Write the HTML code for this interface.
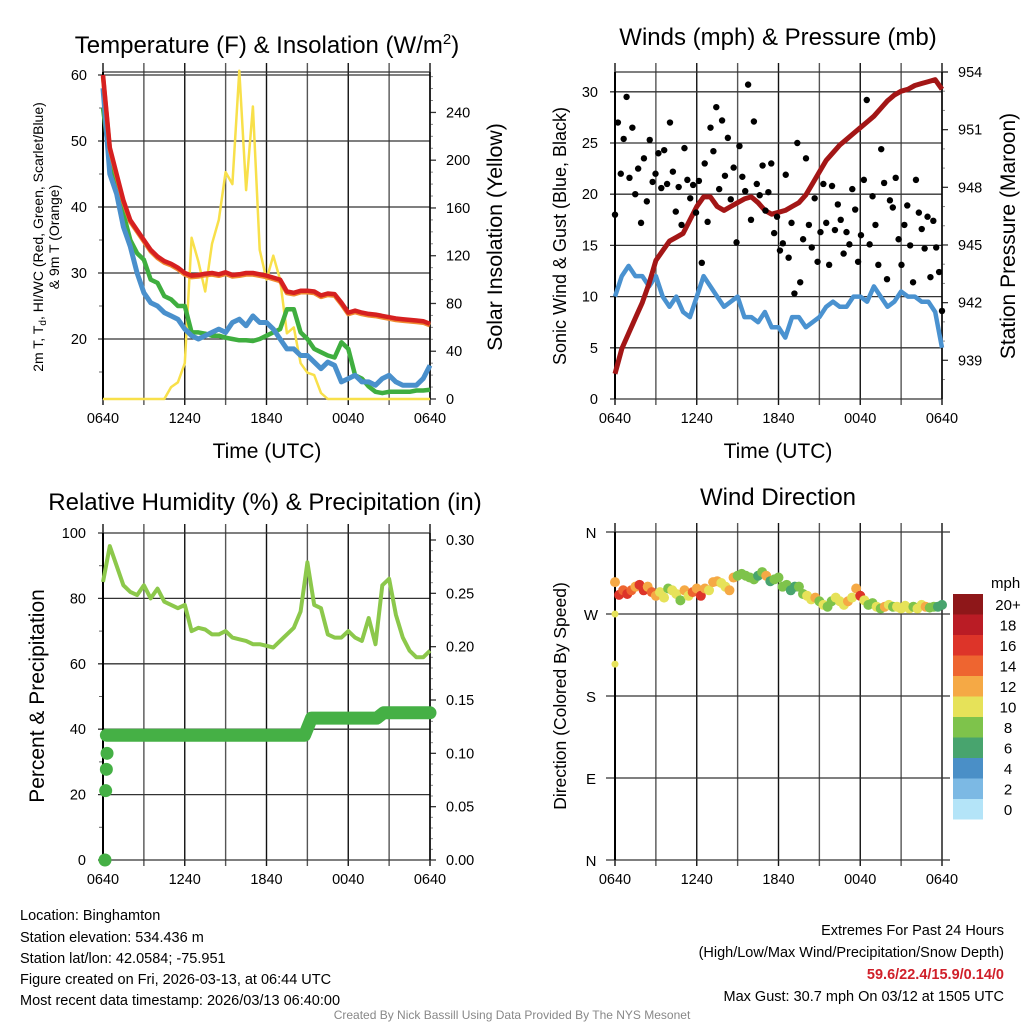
<!DOCTYPE html>
<html><head><meta charset="utf-8">
<style>
body{margin:0;background:#fff;}
svg{display:block;font-family:"Liberation Sans",sans-serif;}
</style></head>
<body>
<svg id="fig" width="1024" height="1024" viewBox="0 0 1024 1024">
<!-- titles -->
<text x="267" y="53" font-size="24" text-anchor="middle">Temperature (F) &amp; Insolation (W/m<tspan dy="-9" font-size="15">2</tspan><tspan dy="9">)</tspan></text>
<text x="778" y="45" font-size="24" text-anchor="middle">Winds (mph) &amp; Pressure (mb)</text>
<text x="265" y="510" font-size="24" text-anchor="middle">Relative Humidity (%) &amp; Precipitation (in)</text>
<text x="778" y="505" font-size="24" text-anchor="middle">Wind Direction</text>
<!-- axis titles -->
<text transform="translate(43,237) rotate(-90)" font-size="14" text-anchor="middle">2m T, T<tspan dy="3" font-size="10">d</tspan><tspan dy="-3">, HI/WC (Red, Green, Scarlet/Blue)</tspan></text>
<text transform="translate(59,237) rotate(-90)" font-size="14" text-anchor="middle">&amp; 9m T (Orange)</text>
<text transform="translate(502,237) rotate(-90)" font-size="21.3" text-anchor="middle">Solar Insolation (Yellow)</text>
<text x="267" y="458" font-size="21" text-anchor="middle">Time (UTC)</text>
<text x="778" y="458" font-size="21" text-anchor="middle">Time (UTC)</text>
<text transform="translate(566,236) rotate(-90)" font-size="18" text-anchor="middle">Sonic Wind &amp; Gust (Blue, Black)</text>
<text transform="translate(1015,236) rotate(-90)" font-size="21" text-anchor="middle">Station Pressure (Maroon)</text>
<text transform="translate(44,696) rotate(-90)" font-size="21" text-anchor="middle">Percent &amp; Precipitation</text>
<text transform="translate(566,696) rotate(-90)" font-size="17.5" text-anchor="middle">Direction (Colored By Speed)</text>
<!-- footer -->
<g font-size="14.5">
<text x="20" y="920">Location: Binghamton</text>
<text x="20" y="942">Station elevation: 534.436 m</text>
<text x="20" y="963">Station lat/lon: 42.0584; -75.951</text>
<text x="20" y="984">Figure created on Fri, 2026-03-13, at 06:44 UTC</text>
<text x="20" y="1005">Most recent data timestamp: 2026/03/13 06:40:00</text>
</g>
<g font-size="14.5" text-anchor="end">
<text x="1004" y="935">Extremes For Past 24 Hours</text>
<text x="1004" y="957">(High/Low/Max Wind/Precipitation/Snow Depth)</text>
<text x="1004" y="979" fill="#d0202a" font-weight="bold">59.6/22.4/15.9/0.14/0</text>
<text x="1004" y="1001">Max Gust: 30.7 mph On 03/12 at 1505 UTC</text>
</g>
<text x="512" y="1019" font-size="12" fill="#888" text-anchor="middle">Created By Nick Bassill Using Data Provided By The NYS Mesonet</text>
</svg>
<script>
// ---------- data (half-hourly, hours since 0640) ----------
const tempRed=[60,49,45,41,38,36.5,35,33.5,32.5,31.8,31.4,30.8,30,29.6,29.7,29.9,30,29.8,30.1,29.7,29.8,30,30,29.8,29.6,29.3,29,27.2,27,27.3,27.3,27.2,26.6,26.9,26.8,25.5,24,24.3,24,23.8,23.7,23.5,23.3,23.1,23,22.9,22.8,22.7,22.3];
const dewGreen=[55,47,44,39,35,33,32,29,28.5,26.5,26,25,25,21,21,20.8,20.5,20.5,20.2,20,19.8,19.8,19.7,20,20.5,21,21.5,24.5,24.5,21,20,18.5,18,17.5,17.2,19.5,18.5,14.5,14,12.8,12,11.8,12,12,12,12,12.2,12.2,12.3];
const chillBlue=[58,45,42,37,34,30,27,25.5,25,24,23.5,23,21.5,20.5,20,20.5,21,21.5,21,22.5,23,22,23.5,22.5,22.5,21.5,20,18.5,18.5,17.5,17.5,16.5,15.5,16.5,16,13.5,14,14.5,13.5,13.5,13,14,14.5,13.5,13,13,13,14,16];
const solar=[0,0,0,0,0,0,0,0,0,0,10,14,30,135,115,90,130,150,190,180,275,175,245,125,100,120,100,55,60,30,22,20,5,0,0,0,0,0,0,0,0,0,0,0,0,0,0,0,0];
const windSpeed=[10,12,13,12,12,11,12,10,9,10,8.5,8,10,12,11,10,9,9.5,10,8,8,7.5,8.5,7,7,6,8,8,7,7.5,8,9,9.5,9,9,10,10,9.5,11,10,9,9.5,10.5,10,10,9.5,9.5,8.5,5];
const pressure=[938.3,939.6,940.4,941.2,942.0,943.0,944.2,944.7,945.2,945.4,945.6,946.3,947.0,947.5,947.5,947.0,946.8,947.0,947.2,947.4,947.5,947.2,946.8,946.6,946.7,946.8,947.0,947.2,947.6,948.2,948.8,949.4,949.8,950.2,950.5,950.8,951.1,951.4,951.7,952.1,952.5,952.8,953.0,953.1,953.3,953.4,953.5,953.6,953.1];
const gusts=[18,27,22,25.4,29.5,21.6,26.5,20,22.5,17.2,23.5,19.3,25.3,21.2,22,24,20.6,24.3,21,27,22.2,18.3,20.7,17,24.5,21.4,19.6,20.9,18.2,21.3,13.3,23,17.3,26.5,24.2,28.5,20.5,27.2,21.8,25.5,19.5,22.6,15.3,24.7,21.7,20.3,30.7,17.5,27.1,21,19.9,22.8,18.4,20.2,23,16.2,17.8,14.5,15.2,21.9,13.8,17.2,10.3,25,11.4,15.6,23.5,17,14.8,19.6,13.4,16.3,21,17.2,13.1,20.8,16.5,19,17.5,14.2,16.3,15.1,20.5,18.5,13.4,16,21.4,29.2,15.1,19.8,17,13.1,24.4,21.1,11.7,19.4,18.7,21.6,15.6,13.1,17,18.9,15,11.4,21.4,18.2,16.6,14.7,17.8,11.9,17.4,14.8,12.4,8.6];
const rh=[85,96,90,84,82,81,84,80,83,79,78,77,78,70,71,70.5,69,69,70,68,67.5,67,66,66,65.5,65,67,69,71,76,91,78,77,69,68,68,70,68,67,74,66,84,86,75,68,64,62,62,64];
const precipHours=[0,0.05,0.1,0.15,0.25,14.8,15.3,20.1,20.6,24];
const precipVals=[0,0.065,0.085,0.1,0.117,0.117,0.133,0.133,0.138,0.138];
const dirDeg=[305,291,296,292,296,300,302,296,300,294,290,294,288,298,296,292,285,296,290,294,298,290,298,296,305,306,304,300,296,310,312,314,312,310,308,312,316,312,306,308,310,300,302,296,300,300,292,290,286,288,284,280,278,284,288,284,280,284,288,298,290,285,280,282,278,276,278,280,278,278,276,279,276,278,276,280,278,277,278,278,280];
const dirSpeed=[12,15,13,16,14,12,15,16,12,13,11,10,9,8,10,9,8,11,10,13,12,15,12,10,11,12,9,10,12,11,8,8,7,7,8,6,7,11,5,8,7,7,8,6,5,7,8,10,9,11,8,9,7,8,10,9,10,11,10,12,15,9,8,7,10,7,12,9,8,10,9,10,9,8,10,9,11,8,7,6,5];
const extraDirHours=[0,0];
const extraDir=[215,270];
const extraSpeed=[10,10];
const timeLabels=["0640","1240","1840","0040","0640"];
const tempTicks=[20,30,40,50,60];
const solarTicks=[0,40,80,120,160,200,240];
const windTicks=[0,5,10,15,20,25,30];
const presTicks=[939,942,945,948,951,954];
const rhTicks=[0,20,40,60,80,100];
const precipTicks=["0.00","0.05","0.10","0.15","0.20","0.25","0.30"];
const dirLabels=["N","E","S","W","N"];
const legendLabels=["0","2","4","6","8","10","12","14","16","18","20+"];
const legendColors=["#b4e4f8","#7cb9e4","#4a8fc7","#48a46e","#7ec34b","#e6e259","#f5a945","#ee6530","#dd3429","#ba1c25","#8e1719"];

const NS="http://www.w3.org/2000/svg";
const svg=document.getElementById('fig');
const TS=14.5;
function mk(tag,attrs,parent){const e=document.createElementNS(NS,tag);for(const k in attrs)e.setAttribute(k,attrs[k]);(parent||svg).appendChild(e);return e;}
function txt(x,y,s,size,anchor,parent){const t=mk('text',{x:x,y:y,'font-size':size,'text-anchor':anchor},parent);t.textContent=s;return t;}

function panel(name,x0,x1,y0,y1){
  const g=mk('g',{});
  
  
  const xs=h=>x0+h*(x1-x0)/24;
  for(let i=0;i<=8;i++){
    const x=xs(i*3);
    const l=mk('line',{x1:x,x2:x,y1:y0-9,y2:y1+6,stroke:i%2? '#555':'#111','stroke-width':1.4},g);
    
    
  }
  for(let i=0;i<5;i++){
    const t=txt(xs(i*6),y1+24,timeLabels[i],TS,'middle',g);
    
    
  }
  return {g,xs};
}
function hline(g,x0,x1,y,nm){const l=mk('line',{x1:x0,x2:x1,y1:y,y2:y,stroke:'#333','stroke-width':1.3},g);return l;}
function pathFrom(vals,xs,ys,step){return vals.map((v,i)=>(i?'L':'M')+xs(i*step).toFixed(1)+','+ys(v).toFixed(1)).join('');}

// ---------- Panel 1: temperature ----------
{
  const X0=103,X1=430,Y0=72,Y1=399;
  const {g,xs}=panel('temp-panel',X0,X1,Y0,Y1);
  const yT=v=>75+(60-v)*6.6;
  const yS=v=>399-v*1.194;
  tempTicks.forEach(v=>{hline(g,X0-5,X1,yT(v),'temp-gridline');const t=txt(87,yT(v)+5,String(v),TS,'end',g);});
  [15,25,35,45,55].forEach(v=>mk('line',{x1:X0-4,x2:X0,y1:yT(v),y2:yT(v),stroke:'#666'},g));
  hline(g,X0,X1,Y0,'temp-frame-top');
  solarTicks.forEach(v=>{mk('line',{x1:X1,x2:X1+6,y1:yS(v),y2:yS(v),stroke:'#333','stroke-width':1.3},g);const t=txt(446,yS(v)+5,String(v),TS,'start',g);});
  for(let v=10;v<=270;v+=10){if(v%40)mk('line',{x1:X1,x2:X1+3,y1:yS(v),y2:yS(v),stroke:'#888'},g);}
  mk('line',{x1:X0,x2:X0,y1:Y0,y2:Y1,stroke:'#000','stroke-width':2},g);
  mk('line',{x1:X1,x2:X1,y1:Y0,y2:Y1,stroke:'#000','stroke-width':1.5},g);
  hline(g,X0,X1,Y1,'temp-frame-bottom');
  const s=mk('path',{d:pathFrom(solar,xs,yS,0.5),fill:'none',stroke:'#f8e04a','stroke-width':2.5,'stroke-linejoin':'round'},g);
  
  const gr=mk('path',{d:pathFrom(dewGreen,xs,yT,0.5),fill:'none',stroke:'#3fae3f','stroke-width':4.5,'stroke-linejoin':'round'},g);
  
  const bl=mk('path',{d:pathFrom(chillBlue,xs,yT,0.5),fill:'none',stroke:'#4a90cc','stroke-width':5,'stroke-linejoin':'round'},g);
  
  const or=mk('path',{d:pathFrom(tempRed,xs,v=>yT(v)+1.5,0.5),fill:'none',stroke:'#f08a30','stroke-width':4.5,'stroke-linejoin':'round'},g);
  
  const rd=mk('path',{d:pathFrom(tempRed,xs,yT,0.5),fill:'none',stroke:'#d62020','stroke-width':4.5,'stroke-linejoin':'round'},g);
  
}
// ---------- Panel 2: wind ----------
{
  const X0=615,X1=942,Y0=72,Y1=399;
  const {g,xs}=panel('wind-panel',X0,X1,Y0,Y1);
  const yW=v=>399-v*10.24;
  const yP=v=>72+(954-v)*19.22;
  windTicks.forEach(v=>{hline(g,X0-5,X1,yW(v),'wind-gridline');const t=txt(598,yW(v)+5,String(v),TS,'end',g);});
  hline(g,X0,X1+6,Y0,'wind-frame-top');
  presTicks.forEach(v=>{mk('line',{x1:X1,x2:X1+6,y1:yP(v),y2:yP(v),stroke:'#333','stroke-width':1.3},g);const t=txt(958,yP(v)+5,String(v),TS,'start',g);});
  for(let v=938;v<954;v++){if((v-939)%3)mk('line',{x1:X1,x2:X1+3,y1:yP(v),y2:yP(v),stroke:'#888'},g);}
  mk('line',{x1:X0,x2:X0,y1:Y0,y2:Y1,stroke:'#000','stroke-width':2},g);
  mk('line',{x1:X1,x2:X1,y1:Y0,y2:Y1,stroke:'#000','stroke-width':1.5},g);
  const w=mk('path',{d:pathFrom(windSpeed,xs,yW,0.5),fill:'none',stroke:'#4a92d0','stroke-width':4.5,'stroke-linejoin':'round'},g);
  
  const p=mk('path',{d:pathFrom(pressure,xs,yP,0.5),fill:'none',stroke:'#a31616','stroke-width':5,'stroke-linejoin':'round'},g);
  
  gusts.forEach((v,i)=>{const c=mk('circle',{cx:xs(i*24/(gusts.length-1)),cy:yW(v),r:3.2,fill:'#000'},g);
    
    });
}
// ---------- Panel 3: RH & precip ----------
{
  const X0=103,X1=430,Y0=533,Y1=860;
  const {g,xs}=panel('rh-panel',X0,X1,Y0,Y1);
  const yR=v=>860-v*3.27;
  const yQ=v=>860-v*(320/0.3);
  rhTicks.forEach(v=>{hline(g,X0-5,X1,yR(v),'rh-gridline');const t=txt(86,yR(v)+5,String(v),TS,'end',g);});
  [10,30,50,70,90].forEach(v=>mk('line',{x1:X0-4,x2:X0,y1:yR(v),y2:yR(v),stroke:'#666'},g));
  precipTicks.forEach(s=>{const v=parseFloat(s);mk('line',{x1:X1,x2:X1+6,y1:yQ(v),y2:yQ(v),stroke:'#333','stroke-width':1.3},g);const t=txt(446,yQ(v)+5,s,TS,'start',g);});
  for(let v=0.01;v<0.3;v+=0.01){if(Math.round(v*100)%5)mk('line',{x1:X1,x2:X1+3,y1:yQ(v),y2:yQ(v),stroke:'#888'},g);}
  mk('line',{x1:X0,x2:X0,y1:Y0,y2:Y1,stroke:'#000','stroke-width':2},g);
  mk('line',{x1:X1,x2:X1,y1:Y0,y2:Y1,stroke:'#000','stroke-width':1.5},g);
  const r=mk('path',{d:pathFrom(rh,xs,yR,0.5),fill:'none',stroke:'#8cc84b','stroke-width':4,'stroke-linejoin':'round'},g);
  
  const d=precipHours.slice(4).map((h,i)=>(i?'L':'M')+xs(h).toFixed(1)+','+yQ(precipVals[i+4]).toFixed(1)).join('');
  const q=mk('path',{d:d,fill:'none',stroke:'#45b045','stroke-width':13,'stroke-linecap':'round','stroke-linejoin':'round'},g);
  
  precipVals.slice(0,4).forEach((v,i)=>{const c=mk('circle',{cx:xs(precipHours[i])+2,cy:yQ(v),r:6.5,fill:'#45b045'},g);
    
    });
}
// ---------- Panel 4: wind direction ----------
{
  const X0=615,X1=942,Y0=532,Y1=860;
  const {g,xs}=panel('direction-panel',X0,X1,Y0,Y1);
  const yD=v=>860-v*(328/360);
  dirLabels.forEach((s,i)=>{hline(g,X0-9,X1+8,yD(i*90),'direction-gridline');const t=txt(591,yD(i*90)+6,s,15,'middle',g);});
  mk('line',{x1:X0,x2:X0,y1:Y0,y2:Y1,stroke:'#000','stroke-width':2},g);
  const col=s=>legendColors[Math.min(10,Math.max(0,Math.floor((s+1)/2)))];
  extraDir.forEach((v,i)=>{const c=mk('circle',{cx:xs(extraDirHours[i]),cy:yD(v),r:3.5,fill:col(extraSpeed[i])},g);
    
    });
  dirDeg.forEach((v,i)=>{const c=mk('circle',{cx:xs(i*0.3),cy:yD(v),r:5,fill:col(dirSpeed[i])},g);
    
    });
  const lg=mk('g',{});
  
  
  txt(991,588,'mph',15,'start',lg);
  legendColors.forEach((c,i)=>{const y=799-i*20.5;mk('rect',{x:953,y:y,width:30,height:20.5,fill:c},lg);
    const t=txt(1008,y+16,legendLabels[i],15,'middle',lg);
    
    });
}
</script>
</body></html>
